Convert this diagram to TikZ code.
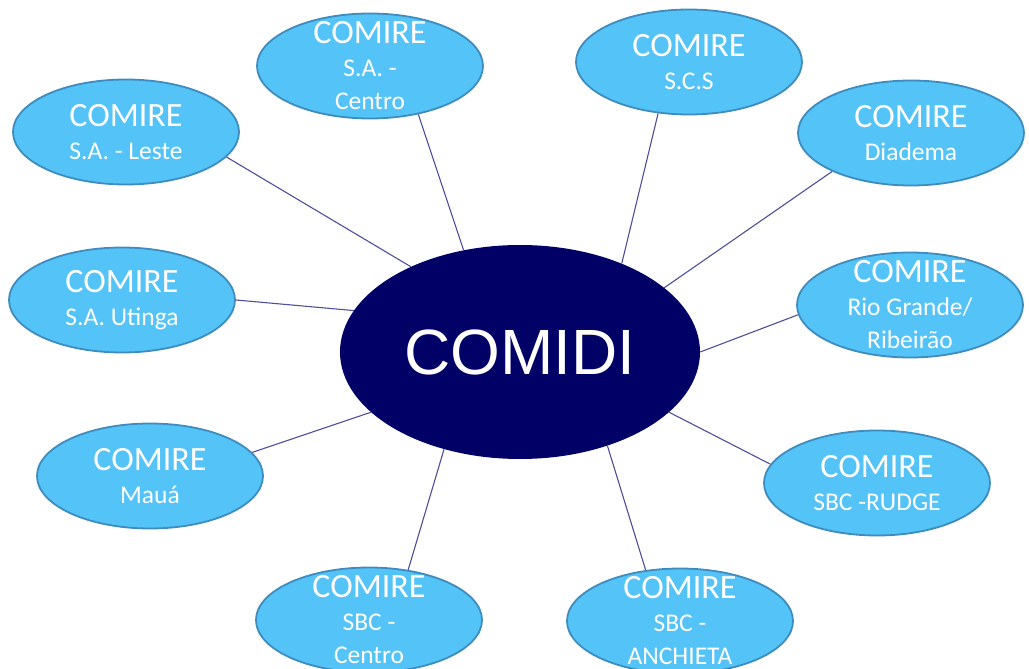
\documentclass[tikz,border=0pt]{standalone}
\usepackage{fontspec}
\setmainfont{Carlito}
\newfontfamily\arialfont{Liberation Sans}
\usepackage{tikz}
\usetikzlibrary{shapes.geometric, positioning}

\definecolor{navy}{RGB}{0,0,102}
\definecolor{skyfill}{RGB}{84,195,247}
\definecolor{skyline}{RGB}{62,140,190}
\definecolor{linkcol}{RGB}{78,78,156}

\newcommand{\comireword}{{\fontsize{34}{34}\selectfont COMIRE}}

\begin{document}
\begin{tikzpicture}[on grid,
    comire/.style={ellipse, draw=skyline, fill=skyfill, line width=1.8pt,
        minimum width=226pt, minimum height=105pt, inner sep=0pt,
        label={[comiretext]center:{\comireword\\#1}}},
    comiretext/.style={text=white, align=center, inner sep=0pt,
        font=\fontsize{25.5}{33}\selectfont},
    link/.style={draw=linkcol, line width=1.1pt}]
        \useasboundingbox (-520pt,-317pt) rectangle (509pt,352pt);

        \node[ellipse, fill=navy, text=white, minimum width=360pt, minimum height=214pt,
            font=\arialfont\fontsize{64}{64}\selectfont] (comidi) {COMIDI};

        \node[comire={S.A. - Leste}] (leste) [above left=220pt and 394pt of comidi] {};
        \node[comire={S.A. -\\Centro}] (sacentro) [above left=286pt and 150pt of comidi] {};
        \node[comire={S.C.S}] (scs) [above right=290pt and 169pt of comidi] {};
        \node[comire={Diadema}] (diadema) [above right=219pt and 391pt of comidi] {};
        \node[comire={Rio Grande/\\Ribeirão}] (rio) [above right=47pt and 390pt of comidi] {};
        \node[comire={S.A. Utinga}] (utinga) [above left=52pt and 398pt of comidi] {};
        \node[comire={Mauá}] (maua) [below left=124pt and 370pt of comidi] {};
        \node[comire={SBC -RUDGE}] (rudge) [below right=131pt and 357pt of comidi] {};
        \node[comire={SBC -\\Centro}] (sbccentro) [below left=268pt and 151pt of comidi] {};
        \node[comire={SBC -\\ANCHIETA}] (anchieta) [below right=269pt and 160pt of comidi] {};

        \path[link]
        (comidi.142) edge (leste.-14)
        (comidi.119) edge (sacentro.-45)
        (comidi.41) edge (scs.-121)
            (comidi.24) edge (diadema.-154)
        (comidi.0) edge (rio.185)
        (comidi.166) edge (utinga.0)
        (comidi.202) edge (maua.13)
        (comidi.-22) edge (rudge.170)
        (comidi.-128) edge (sbccentro.52)
        (comidi.-47) edge (anchieta.124);
      \end{tikzpicture}
\end{document}
